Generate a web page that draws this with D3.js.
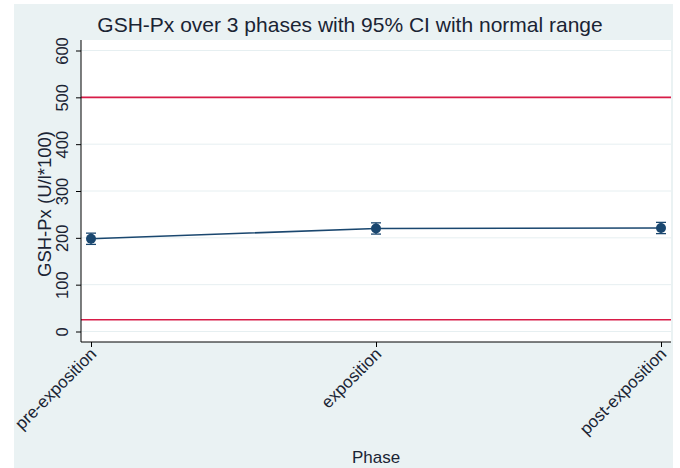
<!DOCTYPE html>
<html>
<head>
<meta charset="utf-8">
<script src="https://cdn.jsdelivr.net/npm/d3@7"></script>
<style>
  html, body { margin: 0; padding: 0; background: #ffffff; }
  svg { display: block; font-family: "Liberation Sans", Arial, Helvetica, sans-serif; }
</style>
</head>
<body>
<svg id="chart" width="680" height="468"></svg>
<script>
// GSH-Px means per phase with 95% confidence intervals
const phases = ["pre-exposition", "exposition", "post-exposition"];
const means = [198, 220, 221];
const ciLow = [186, 208, 209];
const ciHigh = [210, 232, 233];
// normal reference range
const normalRange = [25, 500];
const yTicks = [0, 100, 200, 300, 400, 500, 600];

const svg = d3.select("#chart");
const W = 680, H = 468;
const plot = { left: 81, right: 671, top: 40, bottom: 342 };
const textColor = "#1a2434";
const navy = "#1a476f";
const red = "#d81c48";

// outer panel
svg.append("rect").attr("x", 14).attr("y", 4).attr("width", 659).attr("height", H - 4)
  .attr("fill", "#eaf2f3");
// plot region
svg.append("rect").attr("x", plot.left).attr("y", plot.top)
  .attr("width", plot.right - plot.left).attr("height", plot.bottom - plot.top)
  .attr("fill", "#ffffff");

const y = d3.scaleLinear().domain([0, 600]).range([331.5, 50.5]);
const x = d3.scalePoint().domain(phases).range([91, 661]);

// grid lines
svg.append("g").selectAll("line").data(yTicks).join("line")
  .attr("x1", plot.left).attr("x2", plot.right)
  .attr("y1", d => y(d)).attr("y2", d => y(d))
  .attr("stroke", "#e6eff1").attr("stroke-width", 1);

// reference lines for the normal range
svg.append("g").selectAll("line").data(normalRange).join("line")
  .attr("x1", plot.left).attr("x2", plot.right)
  .attr("y1", d => y(d)).attr("y2", d => y(d))
  .attr("stroke", red).attr("stroke-width", 1.6);

// y axis
const yAxis = svg.append("g").attr("transform", `translate(${plot.left},0)`)
  .call(d3.axisLeft(y).tickValues(yTicks).tickSize(5).tickPadding(4));
yAxis.select(".domain").attr("d", `M0,${plot.top}V${plot.bottom}`).attr("stroke", "#000").attr("stroke-width", 1);
yAxis.selectAll(".tick line").attr("stroke", "#000");
yAxis.selectAll(".tick text")
  .attr("fill", textColor).style("font-size", "16.5px")
  .attr("x", 0).attr("dy", 0)
  .attr("text-anchor", "middle")
  .attr("transform", "translate(-19,0) rotate(-90)")
  .attr("dominant-baseline", "central");

// x axis
const xAxis = svg.append("g").attr("transform", `translate(0,${plot.bottom})`)
  .call(d3.axisBottom(x).tickSize(5).tickPadding(4));
xAxis.select(".domain").attr("d", `M${plot.left},0H${plot.right}`).attr("stroke", "#000").attr("stroke-width", 1);
xAxis.selectAll(".tick line").attr("stroke", "#000");
xAxis.selectAll(".tick text")
  .attr("fill", textColor).style("font-size", "17px")
  .attr("y", 0).attr("dy", 0)
  .attr("text-anchor", "end")
  .attr("transform", "translate(6,13) rotate(-45)");

// connecting line
const line = d3.line().x((d, i) => x(phases[i])).y(d => y(d));
svg.append("path").datum(means).attr("d", line)
  .attr("fill", "none").attr("stroke", navy).attr("stroke-width", 1.6);

// confidence intervals
const ci = svg.append("g").attr("stroke", navy).attr("stroke-width", 1.3);
phases.forEach((p, i) => {
  const cx = x(p);
  ci.append("line").attr("x1", cx).attr("x2", cx).attr("y1", y(ciLow[i])).attr("y2", y(ciHigh[i]));
  ci.append("line").attr("x1", cx - 5).attr("x2", cx + 5).attr("y1", y(ciLow[i])).attr("y2", y(ciLow[i]));
  ci.append("line").attr("x1", cx - 5).attr("x2", cx + 5).attr("y1", y(ciHigh[i])).attr("y2", y(ciHigh[i]));
});

// markers
svg.append("g").selectAll("circle").data(means).join("circle")
  .attr("cx", (d, i) => x(phases[i])).attr("cy", d => y(d)).attr("r", 5)
  .attr("fill", navy);

// titles
svg.append("text").attr("x", 350).attr("y", 32).attr("text-anchor", "middle")
  .style("font-size", "21px").attr("fill", textColor)
  .text("GSH-Px over 3 phases with 95% CI with normal range");
svg.append("text").attr("transform", "translate(51,204) rotate(-90)")
  .attr("text-anchor", "middle").style("font-size", "18.5px").attr("fill", textColor)
  .text("GSH-Px (U/l*100)");
svg.append("text").attr("x", 376).attr("y", 463).attr("text-anchor", "middle")
  .style("font-size", "17px").attr("fill", textColor)
  .text("Phase");
</script>
</body>
</html>
